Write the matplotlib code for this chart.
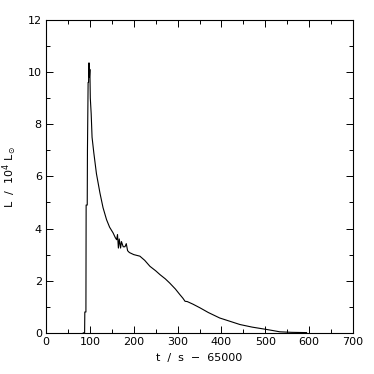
import matplotlib
matplotlib.use("Agg")
import matplotlib.pyplot as plt
import numpy as np
from matplotlib.ticker import MultipleLocator

# light curve
t = [85, 88, 88.5, 91, 91.5, 94, 94.5, 96, 97, 98, 99, 100, 101, 103, 105, 109,
     115, 123, 130, 138, 145, 153, 158, 161, 163, 165, 167, 170, 172, 176, 180,
     183, 186, 190, 200, 214, 225, 237, 250, 260, 272, 282, 295, 305, 312, 317,
     322, 335, 351, 370, 396, 420, 442, 470, 503, 520, 533, 560, 594]
L = [0, 0, 0.8, 0.8, 4.9, 4.9, 7.0, 9.6, 9.6, 10.35, 9.8, 10.1, 9.0, 8.4, 7.5, 6.9,
     6.1, 5.36, 4.8, 4.34, 4.05, 3.83, 3.65, 3.57, 3.77, 3.25, 3.6, 3.25, 3.5, 3.3, 3.3,
     3.42, 3.15, 3.08, 3.0, 2.94, 2.78, 2.55, 2.38, 2.23, 2.07, 1.91, 1.68, 1.47, 1.33, 1.21,
     1.2, 1.1, 0.96, 0.78, 0.57, 0.44, 0.32, 0.22, 0.13, 0.08, 0.04, 0.02, 0.01]

fig = plt.figure(figsize=(3.74, 3.74), dpi=100)
ax = fig.add_axes([0.123, 0.110, 0.821, 0.837])

ax.plot(t, L, color="black", lw=0.8)

ax.set_xlim(0, 700)
ax.set_ylim(0, 12)
ax.xaxis.set_major_locator(MultipleLocator(100))
ax.xaxis.set_minor_locator(MultipleLocator(50))
ax.yaxis.set_major_locator(MultipleLocator(2))
ax.yaxis.set_minor_locator(MultipleLocator(1))
ax.tick_params(which="both", direction="in", top=True, right=True, width=0.7,
               labelsize=8, pad=3)
ax.tick_params(which="major", length=5)
ax.tick_params(which="minor", length=3)
for s in ax.spines.values():
    s.set_linewidth(0.8)

ax.set_xlabel("t  /  s  \u2212  65000", fontsize=8, labelpad=4)
ax.set_ylabel(r"L  /  10$^4$ L$_\odot$", fontsize=8, labelpad=6)

fig.savefig("out.png", dpi=100)
